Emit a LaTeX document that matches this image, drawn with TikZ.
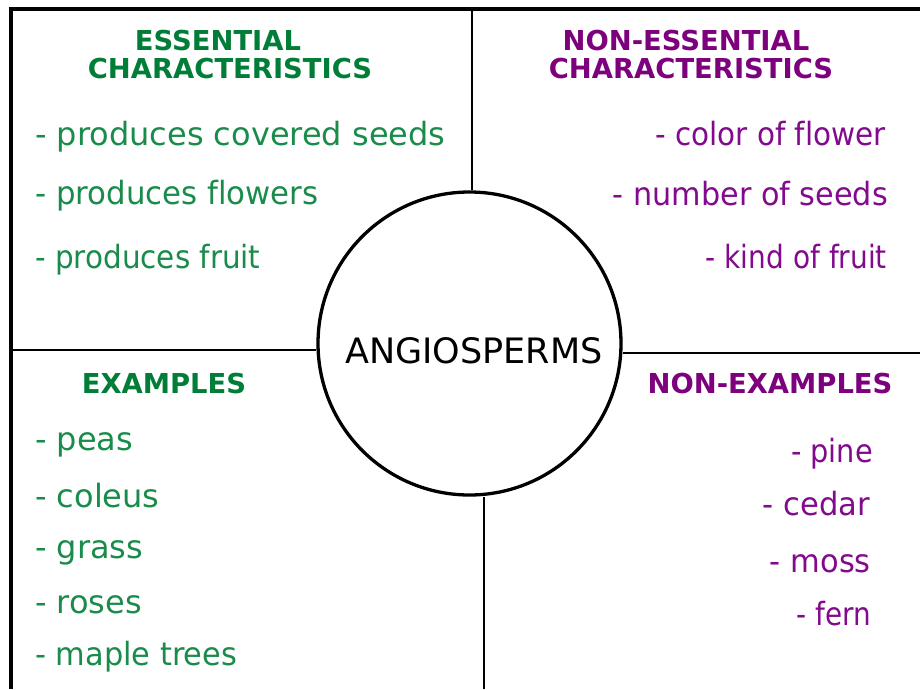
\documentclass[tikz,border=0pt]{standalone}
\usepackage{fontspec}
\usepackage{graphicx}
\setmainfont[Ligatures=NoCommon]{DejaVu Sans}
\definecolor{hgreen}{RGB}{0,125,55}
\definecolor{tgreen}{RGB}{25,140,75}
\definecolor{hpurple}{RGB}{125,0,125}
\definecolor{tpurple}{RGB}{130,10,140}
\newcommand{\hsq}[2]{\scalebox{#1}[1]{#2}}
\tikzset{
  head/.style={font=\bfseries\fontsize{27.4}{30}\selectfont, inner sep=0pt, anchor=base},
  itemL/.style={font=\fontsize{32}{36}\selectfont, inner sep=0pt, anchor=base west},
  itemR/.style={font=\fontsize{32}{36}\selectfont, inner sep=0pt, anchor=base east},
  frame/.style={line width=3.5pt, black},
  divider/.style={line width=2pt, black},
  center circle/.style={circle, draw, line width=3.3pt, minimum size=303pt, inner sep=0pt}
}
\begin{document}
\begin{tikzpicture}[x=1pt, y=-1pt]
\useasboundingbox (0,0) rectangle (920,689);
% frame
\coordinate (tl) at (11,9);
\coordinate (tr) at (920,9);
\coordinate (bl) at (11,689);
\draw[frame] (bl) -- (tl) -- (tr);
% circle
\node[center circle] (circ) at (469.5,343.5) {};
\node[font=\fontsize{35}{40}\selectfont, inner sep=0pt, anchor=base] (title) at (474,363) {ANGIOSPERMS};
% dividers
\coordinate (tv) at (472,9);
\coordinate (bv) at (484,689);
\coordinate (lh) at (11,350);
\coordinate (rh) at (920,353);
\draw[divider] (tv) -- (tv |- circ.north);
\draw[divider] (bv) -- (bv |- circ.south);
\draw[divider] (lh) -- (lh -| circ.west);
\draw[divider] (rh) -- (rh -| circ.east);
% headings
\node[head, text=hgreen] (h1a) at (218,50) {ESSENTIAL};
\node[head, text=hgreen] (h1b) at (230,78) {CHARACTERISTICS};
\node[head, text=hpurple] (h2a) at (686,50) {NON-ESSENTIAL};
\node[head, text=hpurple] (h2b) at (691,78) {CHARACTERISTICS};
\node[head, text=hgreen] (h3) at (164,393) {EXAMPLES};
\node[head, text=hpurple] (h4) at (770,393) {NON-EXAMPLES};
% essential
\node[itemL, text=tgreen] (e1) at (35,145) {- produces covered seeds};
\node[itemL, text=tgreen] (e2) at (35,204) {\hsq{0.962}{- produces flowers}};
\node[itemL, text=tgreen] (e3) at (35,268) {\hsq{0.92}{- produces fruit}};
% non-essential
\node[itemR, text=tpurple] (n1) at (886,145) {\hsq{0.92}{- color of flower}};
\node[itemR, text=tpurple] (n2) at (888,205) {\hsq{0.945}{- number of seeds}};
\node[itemR, text=tpurple] (n3) at (887,268) {\hsq{0.874}{- kind of fruit}};
% examples
\node[itemL, text=tgreen] (x1) at (35,450) {- peas};
\node[itemL, text=tgreen] (x2) at (35,507) {- coleus};
\node[itemL, text=tgreen] (x3) at (35,558) {- grass};
\node[itemL, text=tgreen] (x4) at (35,613) {- roses};
\node[itemL, text=tgreen] (x5) at (35,665) {\hsq{0.95}{- maple trees}};
% non-examples
\node[itemR, text=tpurple] (y1) at (873,462) {\hsq{0.9}{- pine}};
\node[itemR, text=tpurple] (y2) at (870,515) {\hsq{0.956}{- cedar}};
\node[itemR, text=tpurple] (y3) at (871,572) {\hsq{0.953}{- moss}};
\node[itemR, text=tpurple] (y4) at (871,625) {\hsq{0.87}{- fern}};
\end{tikzpicture}
\end{document}
